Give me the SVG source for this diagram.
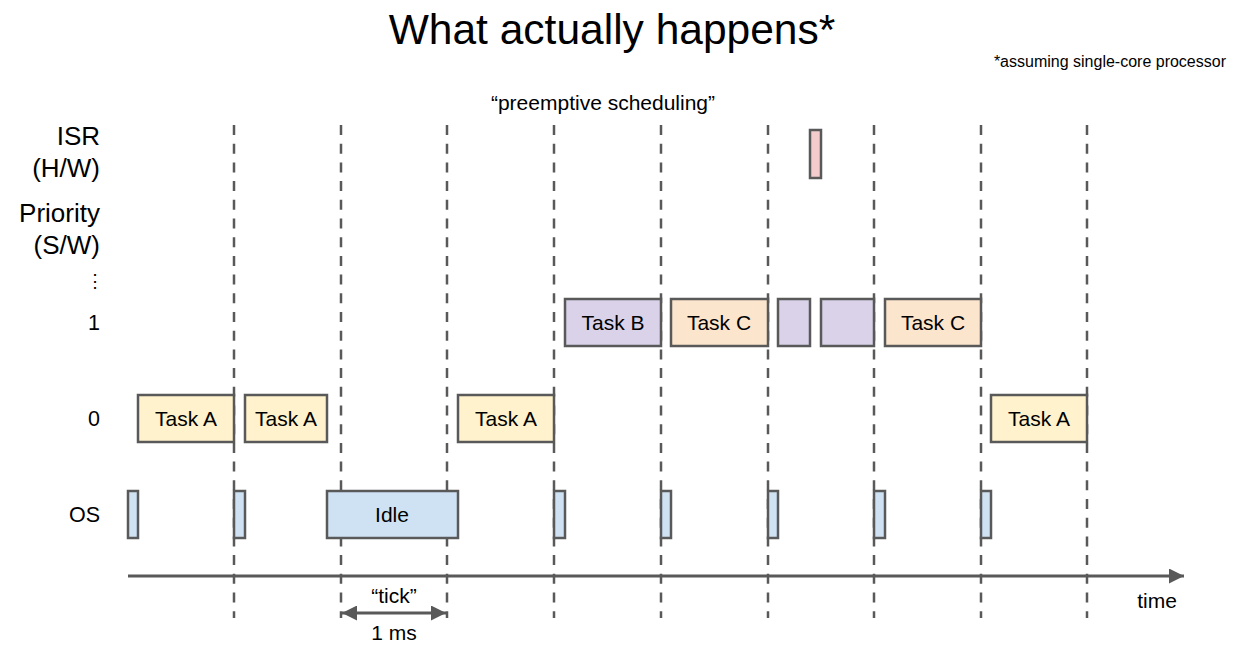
<svg xmlns="http://www.w3.org/2000/svg" width="1247" height="653" viewBox="0 0 1247 653">
<style>
text{font-family:"Liberation Sans",Arial,sans-serif;fill:#000}
.box{stroke:#595959;stroke-width:2.5}
.a{fill:#fff2cc}.b{fill:#d9d2e9}.c{fill:#fce5cd}.os{fill:#cfe2f3}.isr{fill:#f4cccc}
.lbl{font-size:21px;text-anchor:middle}
.row{font-size:21.5px;text-anchor:end}
.big{font-size:26px;text-anchor:end}
.dash{stroke:#595959;stroke-width:2.5;stroke-dasharray:10 8.7}
.ax{stroke:#595959;stroke-width:3;fill:none}
</style>
<defs>
<marker id="ah" viewBox="0 0 10 10" refX="10" refY="5" markerWidth="6" markerHeight="5" markerUnits="strokeWidth" orient="auto-start-reverse">
<path d="M0,0 L10,5 L0,10 Z" fill="#595959"/>
</marker>
</defs>
<rect width="1247" height="653" fill="#fff"/>
<text x="612" y="44" font-size="42.5" text-anchor="middle">What actually happens*</text>
<text x="1226" y="67" font-size="16" text-anchor="end">*assuming single-core processor</text>
<text x="603" y="110" font-size="21" text-anchor="middle">“preemptive scheduling”</text>
<g id="labels">
<text class="big" x="100" y="145">ISR</text>
<text class="big" x="100" y="177">(H/W)</text>
<text class="big" x="100" y="222">Priority</text>
<text class="big" x="100" y="254">(S/W)</text>
<text x="95" y="287" font-size="18" text-anchor="middle">⋮</text>
<text class="row" x="100" y="330">1</text>
<text class="row" x="100" y="426">0</text>
<text class="row" x="100" y="522">OS</text>
</g>
<g id="connectors">
<line class="dash" x1="234" y1="125" x2="234" y2="618"/>
<line class="dash" x1="341" y1="125" x2="341" y2="618"/>
<line class="dash" x1="447" y1="125" x2="447" y2="618"/>
<line class="dash" x1="554" y1="125" x2="554" y2="618"/>
<line class="dash" x1="661" y1="125" x2="661" y2="618"/>
<line class="dash" x1="768" y1="125" x2="768" y2="618"/>
<line class="dash" x1="874" y1="125" x2="874" y2="618"/>
<line class="dash" x1="981" y1="125" x2="981" y2="618"/>
<line class="dash" x1="1087" y1="125" x2="1087" y2="618"/>
<line class="ax" x1="128" y1="576" x2="1184" y2="576" marker-end="url(#ah)"/>
<line class="ax" x1="342" y1="613" x2="446" y2="613" marker-start="url(#ah)" marker-end="url(#ah)"/>
</g>
<g id="isr"><rect class="box isr" x="810" y="130" width="11" height="48"/></g>
<g id="taskB"><rect class="box b" x="565" y="299" width="96" height="47"/><text class="lbl" x="613" y="330">Task B</text></g>
<g id="taskC1"><rect class="box c" x="671" y="299" width="97" height="47"/><text class="lbl" x="719" y="330">Task C</text></g>
<g id="taskB2"><rect class="box b" x="778" y="299" width="32" height="47"/></g>
<g id="taskB3"><rect class="box b" x="821" y="299" width="53" height="47"/></g>
<g id="taskC2"><rect class="box c" x="885" y="299" width="96" height="47"/><text class="lbl" x="933" y="330">Task C</text></g>
<g id="taskA1"><rect class="box a" x="138" y="395" width="96" height="47"/><text class="lbl" x="186" y="426">Task A</text></g>
<g id="taskA2"><rect class="box a" x="245" y="395" width="82" height="47"/><text class="lbl" x="286" y="426">Task A</text></g>
<g id="taskA3"><rect class="box a" x="458" y="395" width="96" height="47"/><text class="lbl" x="506" y="426">Task A</text></g>
<g id="taskA4"><rect class="box a" x="991" y="395" width="96" height="47"/><text class="lbl" x="1039" y="426">Task A</text></g>
<g id="os1"><rect class="box os" x="128" y="491" width="10" height="47"/></g>
<g id="os2"><rect class="box os" x="234" y="491" width="11" height="47"/></g>
<g id="idle"><rect class="box os" x="327" y="491" width="131" height="47"/><text class="lbl" x="392" y="522">Idle</text></g>
<g id="os3"><rect class="box os" x="554" y="491" width="11" height="47"/></g>
<g id="os4"><rect class="box os" x="661" y="491" width="10" height="47"/></g>
<g id="os5"><rect class="box os" x="768" y="491" width="10" height="47"/></g>
<g id="os6"><rect class="box os" x="874" y="491" width="11" height="47"/></g>
<g id="os7"><rect class="box os" x="981" y="491" width="10" height="47"/></g>
<text class="lbl" x="394" y="603">“tick”</text>
<text class="lbl" x="394" y="640">1 ms</text>
<text class="lbl" x="1157" y="608">time</text>
</svg>
